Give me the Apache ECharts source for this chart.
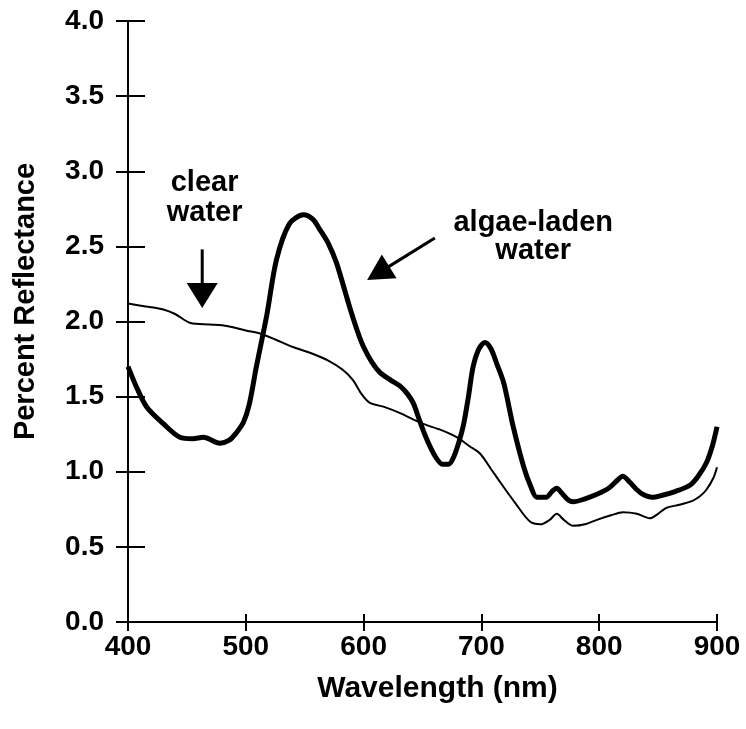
<!DOCTYPE html>
<html>
<head>
<meta charset="utf-8">
<script src="https://cdn.jsdelivr.net/npm/echarts@6/dist/echarts.min.js"></script>
<style>
html,body{margin:0;padding:0;background:#fff;}
#chart{width:746px;height:729px;}
</style>
</head>
<body>
<div id="chart"></div>
<script>
// ---- data ----
const xTicks = [400, 500, 600, 700, 800, 900];
const yTicks = [0, 0.5, 1, 1.5, 2, 2.5, 3, 3.5, 4];

const clearWater = [
  [400, 2.12], [415, 2.10], [430, 2.08], [440, 2.05], [453, 1.99], [470, 1.98], [484, 1.97],
  [500, 1.94], [512, 1.92], [525, 1.88], [540, 1.83], [555, 1.79], [570, 1.74], [582, 1.68],
  [591, 1.61], [598, 1.52], [605, 1.46], [618, 1.43], [631, 1.39], [650, 1.32], [665, 1.28],
  [679, 1.23], [690, 1.17], [699, 1.12], [708, 1.02], [716, 0.93], [728, 0.80], [741, 0.67],
  [750, 0.65], [758, 0.68], [764, 0.72], [770, 0.68], [778, 0.64], [788, 0.65], [798, 0.68],
  [810, 0.71], [820, 0.73], [832, 0.72], [843, 0.69], [850, 0.72], [857, 0.76], [868, 0.78],
  [880, 0.81], [886, 0.84], [891, 0.88], [897, 0.96], [900, 1.03]
];

const algaeWater = [
  [400, 1.70], [408, 1.55], [416, 1.43], [430, 1.32], [444, 1.23], [455, 1.22], [464, 1.23],
  [478, 1.19], [486, 1.21], [492, 1.26], [498, 1.33], [503, 1.45], [509, 1.70], [518, 2.05],
  [526, 2.41], [537, 2.65], [549, 2.71], [557, 2.68], [563, 2.61], [570, 2.52], [577, 2.39],
  [588, 2.10], [595, 1.93], [600, 1.83], [607, 1.73], [614, 1.66], [623, 1.61], [631, 1.57],
  [637, 1.52], [642, 1.46], [648, 1.33], [654, 1.21], [661, 1.10], [667, 1.05], [672, 1.05],
  [676, 1.09], [681, 1.20], [685, 1.32], [689, 1.50], [693, 1.70], [698, 1.82], [703, 1.86],
  [708, 1.82], [713, 1.72], [719, 1.59], [727, 1.30], [736, 1.03], [742, 0.90], [747, 0.83],
  [755, 0.83], [760, 0.87], [764, 0.89], [768, 0.86], [774, 0.81], [778, 0.80], [788, 0.82],
  [798, 0.85], [808, 0.89], [815, 0.94], [820, 0.97], [826, 0.93], [832, 0.88], [837, 0.85],
  [845, 0.83], [852, 0.84], [865, 0.87], [877, 0.91], [884, 0.97], [891, 1.06], [896, 1.17],
  [900, 1.30]
];

const xTitle = 'Wavelength (nm)';
const yTitle = 'Percent Reflectance';
const clearLabel = 'clear\nwater';
const algaeLabel = 'algae-laden\nwater';
// annotation anchors in data coordinates
const clearLabelAt = [465, 2.82];
const clearArrowFrom = [463, 2.48];
const clearArrowTo = [463, 2.09];
const algaeLabelAt = [744, 2.565];
const algaeArrowFrom = [660.5, 2.556];
const algaeArrowTo = [603, 2.276];

// ---- chart ----
const FONT = 'Liberation Sans';
const chart = echarts.init(document.getElementById('chart'), null, {renderer: 'canvas'});

const baseX = {
  type: 'value', min: xTicks[0], max: xTicks[xTicks.length - 1], interval: 100,
  splitLine: {show: false}
};
const baseY = {
  type: 'value', min: yTicks[0], max: yTicks[yTicks.length - 1], interval: 0.5,
  splitLine: {show: false}
};

chart.setOption({
  animation: false,
  backgroundColor: '#fff',
  grid: {left: 128, right: 29, top: 21, bottom: 107, containLabel: false},
  xAxis: [
    Object.assign({}, baseX, {
      position: 'bottom',
      axisLine: {show: true, lineStyle: {color: '#000', width: 2}},
      axisTick: {show: true, inside: false, length: 9, lineStyle: {color: '#000', width: 2}},
      axisLabel: {show: true, margin: 11, color: '#000', fontFamily: FONT, fontWeight: 'bold', fontSize: 28},
      name: xTitle, nameLocation: 'middle', nameGap: 52,
      nameTextStyle: {color: '#000', fontFamily: FONT, fontWeight: 'bold', fontSize: 30, padding: [0, 0, 0, 30], verticalAlign: 'top'}
    }),
    Object.assign({}, baseX, {
      position: 'bottom',
      axisLine: {show: false},
      axisTick: {show: true, inside: true, length: 8, lineStyle: {color: '#000', width: 2}},
      axisLabel: {show: false}
    })
  ],
  yAxis: [
    Object.assign({}, baseY, {
      position: 'left',
      axisLine: {show: true, lineStyle: {color: '#000', width: 2}},
      axisTick: {show: true, inside: false, length: 12, lineStyle: {color: '#000', width: 2}},
      axisLabel: {show: true, margin: 24, color: '#000', fontFamily: FONT, fontWeight: 'bold', fontSize: 28,
        formatter: v => v.toFixed(1)}
    }),
    Object.assign({}, baseY, {
      position: 'left',
      axisLine: {show: false},
      axisTick: {show: true, inside: true, length: 17, lineStyle: {color: '#000', width: 2}},
      axisLabel: {show: false}
    })
  ],
  series: [
    {
      name: 'clear water', type: 'line', xAxisIndex: 0, yAxisIndex: 0,
      data: clearWater, showSymbol: false, smooth: 0.3,
      lineStyle: {color: '#000', width: 2}
    },
    {
      name: 'algae-laden water', type: 'line', xAxisIndex: 0, yAxisIndex: 0,
      data: algaeWater, showSymbol: false, smooth: 0.3,
      lineStyle: {color: '#000', width: 5}
    }
  ]
});

function px(p) { return chart.convertToPixel({xAxisIndex: 0, yAxisIndex: 0}, p); }

function arrow(fromD, toD, headLen, headHalf, lw) {
  const a = px(fromD), b = px(toD);
  const dx = b[0] - a[0], dy = b[1] - a[1];
  const len = Math.sqrt(dx * dx + dy * dy);
  const ux = dx / len, uy = dy / len;
  const nx = -uy, ny = ux;
  const bx = b[0] - ux * headLen, by = b[1] - uy * headLen;
  return [
    {type: 'line', shape: {x1: a[0], y1: a[1], x2: bx + ux * 2, y2: by + uy * 2},
      style: {stroke: '#000', lineWidth: lw}, z: 100},
    {type: 'polygon', shape: {points: [[b[0], b[1]], [bx + nx * headHalf, by + ny * headHalf], [bx - nx * headHalf, by - ny * headHalf]]},
      style: {fill: '#000'}, z: 100}
  ];
}

function label(text, at, fontSize, lineHeight) {
  const p = px(at);
  return {
    type: 'text', x: p[0], y: p[1], z: 100,
    style: {text: text, fill: '#000', font: 'bold ' + fontSize + 'px "' + FONT + '"',
      align: 'center', verticalAlign: 'middle', lineHeight: lineHeight}
  };
}

const gridTop = px([400, 4])[1], gridBottom = px([400, 0])[1];

const graphics = []
  .concat(arrow(clearArrowFrom, clearArrowTo, 25, 15.5, 3))
  .concat(arrow(algaeArrowFrom, algaeArrowTo, 26, 14, 3))
  .concat([
    label(clearLabel, clearLabelAt, 29, 30),
    label(algaeLabel, algaeLabelAt, 29, 28),
    {
      type: 'text', x: 26, y: (gridTop + gridBottom) / 2 - 20, rotation: Math.PI / 2, z: 100,
      style: {text: yTitle, fill: '#000', font: 'bold 29px "' + FONT + '"', align: 'center', verticalAlign: 'middle'}
    }
  ]);

chart.setOption({graphic: graphics});
</script>
</body>
</html>
